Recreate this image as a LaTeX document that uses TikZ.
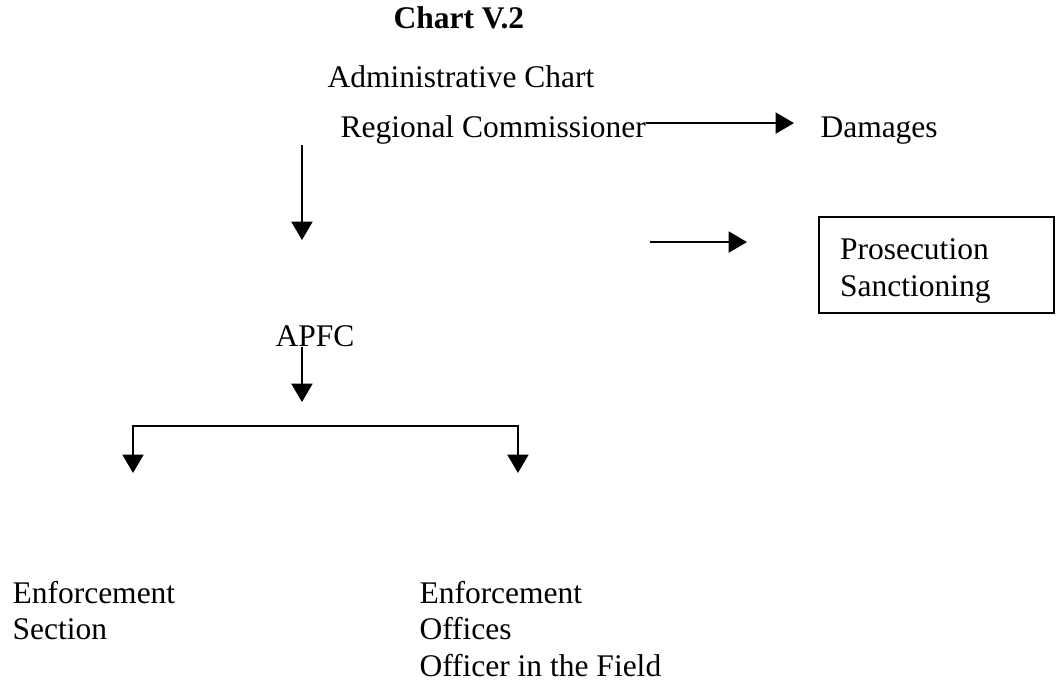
\documentclass[tikz,border=0pt]{standalone}
\usepackage{fontspec}
\setmainfont{Liberation Serif}
\usetikzlibrary{arrows.meta}

\tikzset{
    >={Triangle[length=7pt,width=8pt]},
    lbl/.style={inner sep=0pt, align=left, font=\fontsize{12}{13.9}\selectfont},
    arr/.style={line width=0.75pt, ->},
}

\begin{document}
\begin{tikzpicture}
    \useasboundingbox (0,0) rectangle (14.139,9.105);

    % Headings
    \node[lbl, anchor=base west, font=\fontsize{12}{13.9}\selectfont\bfseries] (title) at (5.262,8.723) {Chart V.2};
    \node[lbl, anchor=base west] (admin) at (4.378,7.933) {Administrative Chart};

    % Regional commissioner and damages
    \node[lbl, anchor=base west] (rc) at (4.552,7.270) {Regional Commissioner};
    \node[lbl, anchor=base west] (dmg) at (10.979,7.270) {Damages};
    \draw[arr] ([yshift=0.187cm]rc.base east) -- ([xshift=-0.348cm,yshift=0.187cm]dmg.base west);

    % Down to APFC
    \coordinate (rcfoot) at (4.043,7.163);
    \coordinate (rchead) at (4.043,5.891);
    \draw[arr] (rcfoot) -- (rchead);

    % Prosecution box
    \node[lbl, draw, line width=0.75pt, inner xsep=0.281cm, text width=2.584cm,
          minimum height=1.285cm] (pros) at (12.539,5.556) {\rule{0pt}{12.4pt}Prosecution\\Sanctioning};
    \coordinate (prtail) at (8.703,5.864);
    \coordinate (prhead) at (10.002,5.864);
    \draw[arr] (prtail) -- (prhead);

    % APFC and fork
    \node[lbl, anchor=base west] (apfc) at (3.682,4.459) {APFC};
    \coordinate (apfcstem) at ([xshift=0.361cm]apfc.base west);
    \coordinate (apfctip) at (4.043,3.722);
    \draw[arr] (apfcstem) -- (apfctip);

    \coordinate (bar) at (0,3.401);
    \coordinate (secL) at (1.781,2.772);
    \coordinate (offR) at (6.935,2.772);
    \draw[line width=0.75pt, <->] (secL) |- (bar -| offR) -- (offR);

    % Enforcement branches
    \node[lbl, anchor=north west] (sec) at (0.161,1.330) {Enforcement\\Section};
    \node[lbl, anchor=north west] (off) at (5.610,1.330) {Enforcement\\Offices\\Officer in the Field};
\end{tikzpicture}
\end{document}
